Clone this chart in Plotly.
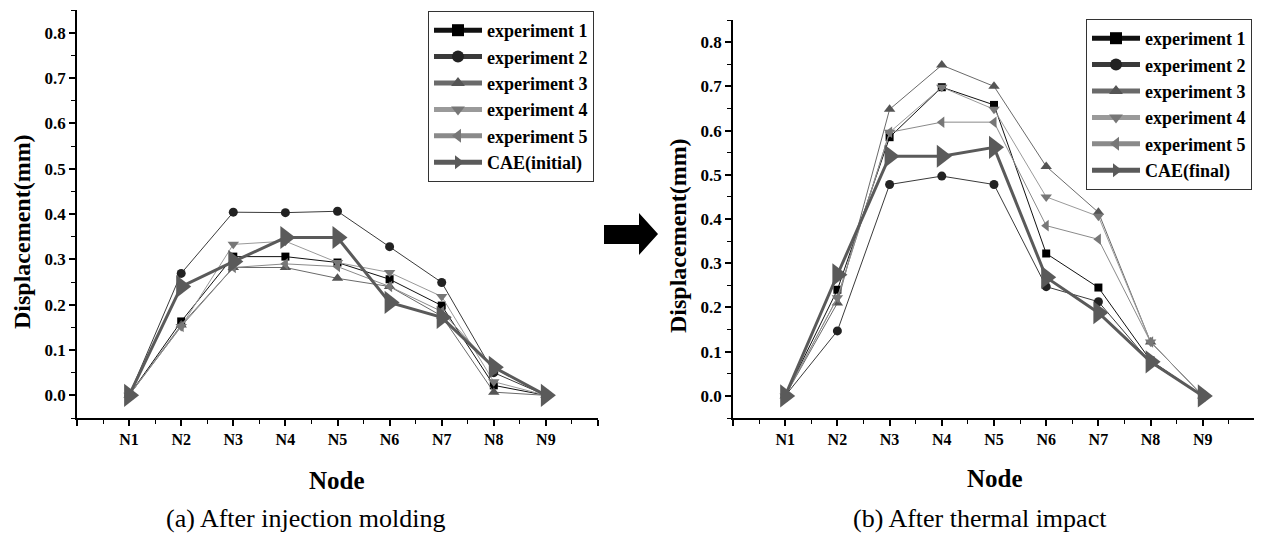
import plotly.graph_objects as go

W, H = 1262, 539
OFF = 8  # page body margin

nodes = ["N1", "N2", "N3", "N4", "N5", "N6", "N7", "N8", "N9"]
node_pos = [1, 2, 3, 4, 5, 6, 7, 8, 9]
y_ticks = [0.0, 0.1, 0.2, 0.3, 0.4, 0.5, 0.6, 0.7, 0.8]
y_ticklabels = ["0.0", "0.1", "0.2", "0.3", "0.4", "0.5", "0.6", "0.7", "0.8"]

# (a) After injection molding
a_exp1 = [0.0, 0.163, 0.306, 0.306, 0.293, 0.256, 0.198, 0.022, 0.0]
a_exp2 = [0.0, 0.269, 0.404, 0.403, 0.406, 0.328, 0.249, 0.050, 0.0]
a_exp3 = [0.0, 0.155, 0.282, 0.282, 0.258, 0.240, 0.175, 0.007, 0.0]
a_exp4 = [0.0, 0.152, 0.333, 0.340, 0.293, 0.271, 0.218, 0.030, 0.0]
a_exp5 = [0.0, 0.152, 0.282, 0.290, 0.284, 0.240, 0.185, 0.060, 0.0]
a_cae = [0.0, 0.240, 0.295, 0.348, 0.348, 0.205, 0.172, 0.062, 0.0]

# (b) After thermal impact
b_exp1 = [0.0, 0.240, 0.585, 0.698, 0.658, 0.322, 0.245, 0.080, 0.0]
b_exp2 = [0.0, 0.147, 0.478, 0.497, 0.478, 0.247, 0.213, 0.075, 0.0]
b_exp3 = [0.0, 0.210, 0.648, 0.748, 0.700, 0.519, 0.415, 0.122, 0.0]
b_exp4 = [0.0, 0.222, 0.596, 0.698, 0.648, 0.450, 0.406, 0.122, 0.0]
b_exp5 = [0.0, 0.222, 0.596, 0.619, 0.619, 0.385, 0.354, 0.122, 0.0]
b_cae = [0.0, 0.274, 0.542, 0.542, 0.562, 0.268, 0.188, 0.077, 0.0]

names = ["experiment 1", "experiment 2", "experiment 3", "experiment 4", "experiment 5"]
symbols = ["square", "circle", "triangle-up", "triangle-down", "triangle-left"]
line_colors = ["#111111", "#3a3a3a", "#6a6a6a", "#9a9a9a", "#8a8a8a"]
marker_colors = ["#000000", "#222222", "#555555", "#777777", "#777777"]
marker_sizes = [8, 9, 10, 10, 10]
cae_color = "#5a5a5a"

SERIF = "Liberation Serif, Times New Roman, serif"

fig = go.Figure()

def bold(s):
    return "<b>" + s + "</b>"

def add_series(data_list, cae, cae_name, xa, ya, legend):
    for i, ys in enumerate(data_list):
        fig.add_trace(go.Scatter(
            x=node_pos, y=ys, mode="lines+markers", name=bold(names[i]),
            xaxis=xa, yaxis=ya, legend=legend,
            line=dict(color=line_colors[i], width=1),
            marker=dict(symbol=symbols[i], size=marker_sizes[i], color=marker_colors[i]),
        ))
    fig.add_trace(go.Scatter(
        x=node_pos, y=cae, mode="lines+markers", name=bold(cae_name),
        xaxis=xa, yaxis=ya, legend=legend,
        line=dict(color=cae_color, width=3),
        marker=dict(symbol="triangle-right", size=20, color=cae_color),
    ))

add_series([a_exp1, a_exp2, a_exp3, a_exp4, a_exp5], a_cae, "CAE(initial)", "x", "y", "legend")
add_series([b_exp1, b_exp2, b_exp3, b_exp4, b_exp5], b_cae, "CAE(final)", "x2", "y2", "legend2")

def px_x(p):
    return (p - OFF) / W

def px_y(p):
    return 1 - (p - OFF) / H

xtick_font = dict(family=SERIF, size=16, color="black")
ytick_font = dict(family=SERIF, size=17, color="black")

xaxis_common = dict(
    range=[0, 10], tickmode="array",
    tickvals=list(range(0, 11)),
    ticktext=[""] + [bold(n) for n in nodes] + [""],
    ticks="outside", ticklen=6, tickwidth=1.5, tickcolor="black",
    minor=dict(dtick=0.5, tick0=0, ticks="outside", ticklen=4, tickwidth=1.2, tickcolor="black"),
    showline=True, linecolor="black", linewidth=1.5,
    showgrid=False, zeroline=False, tickfont=xtick_font, automargin=False,
)
yaxis_common = dict(
    range=[-0.05, 0.85], tickmode="array",
    tickvals=y_ticks,
    ticktext=[bold(t) for t in y_ticklabels],
    ticks="outside", ticklen=6, tickwidth=1.5, tickcolor="black",
    minor=dict(dtick=0.05, tick0=0, ticks="outside", ticklen=4, tickwidth=1.2, tickcolor="black"),
    showline=True, linecolor="black", linewidth=1.5,
    showgrid=False, zeroline=False, tickfont=ytick_font, automargin=False,
)

legend_common = dict(
    font=dict(family=SERIF, size=18, color="black"),
    bordercolor="#333333", borderwidth=1, bgcolor="white",
    xanchor="left", yanchor="top", itemsizing="constant", itemwidth=48,
    tracegroupgap=0,
)

fig.update_layout(
    width=W, height=H,
    margin=dict(l=0, r=0, t=0, b=0),
    paper_bgcolor="white", plot_bgcolor="white",
    showlegend=True,
    xaxis=dict(domain=[px_x(77), px_x(598)], anchor="y", **xaxis_common),
    yaxis=dict(domain=[px_y(418), px_y(10)], anchor="x", **yaxis_common),
    xaxis2=dict(domain=[px_x(733), px_x(1255)], anchor="y2", **xaxis_common),
    yaxis2=dict(domain=[px_y(418), px_y(20)], anchor="x2", **yaxis_common),
    legend=dict(x=px_x(428), y=px_y(11), **legend_common),
    legend2=dict(x=px_x(1086), y=px_y(19), **legend_common),
)

title_font = dict(family=SERIF, size=25, color="black")
ytitle_font = dict(family=SERIF, size=24, color="black")
cap_font = dict(family=SERIF, size=26, color="black")

annos = [
    dict(text=bold("Node"), x=px_x(337), y=px_y(480), font=title_font),
    dict(text=bold("Node"), x=px_x(995), y=px_y(478), font=title_font),
    dict(text=bold("Displacement(mm)"), x=px_x(22), y=px_y(232), font=ytitle_font, textangle=-90),
    dict(text=bold("Displacement(mm)"), x=px_x(678), y=px_y(236), font=ytitle_font, textangle=-90),
    dict(text="(a) After injection molding", x=px_x(305), y=px_y(518), font=cap_font),
    dict(text="(b) After thermal impact", x=px_x(980), y=px_y(518), font=cap_font),
]
for a in annos:
    fig.add_annotation(xref="paper", yref="paper", showarrow=False,
                       xanchor="center", yanchor="middle", **a)

# decorative block arrow between panels
pts = [(604, 225), (639, 225), (639, 213), (658, 234), (639, 255), (639, 244), (604, 244)]
path = "M " + " L ".join(f"{px_x(x):.5f},{px_y(y):.5f}" for x, y in pts) + " Z"
fig.add_shape(type="path", path=path, xref="paper", yref="paper",
              fillcolor="black", line=dict(color="black", width=0))

fig.write_html("out.html")
